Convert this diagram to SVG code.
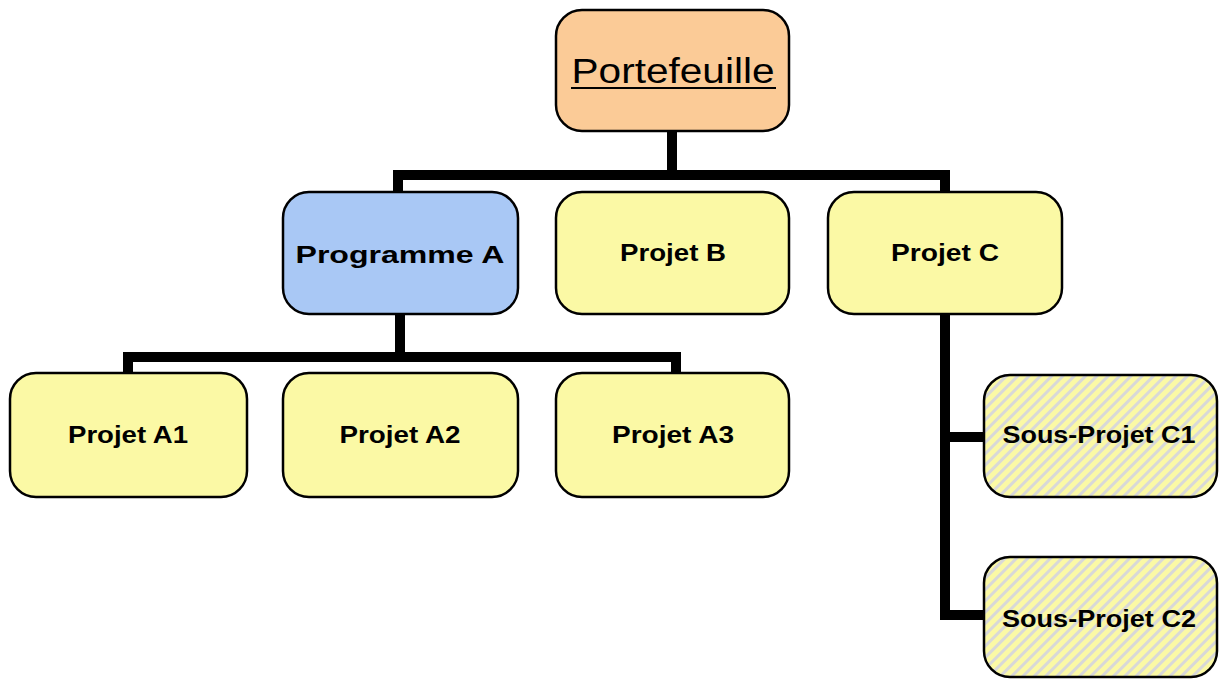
<svg xmlns="http://www.w3.org/2000/svg" width="1219" height="679" viewBox="0 0 1219 679">
<style>
.box{stroke:#000;stroke-width:2.5}
.y{fill:#FBF9A5}
.lbl{font-family:"Liberation Sans",Arial,sans-serif;font-weight:bold;font-size:23px;fill:#000;text-anchor:middle}
.conn{fill:none;stroke:#000;stroke-width:10;stroke-linejoin:miter}
</style>
<defs>
<pattern id="stripes" patternUnits="userSpaceOnUse" width="8" height="8" patternTransform="rotate(45)">
<rect width="8" height="8" fill="#FBF9A5"/>
<rect width="3" height="8" fill="#D8D8D8"/>
</pattern>
</defs>
<rect width="1219" height="679" fill="#fff"/>
<g id="connectors">
<path class="conn" d="M672 131 V175 M398 192 V175 H945 V192"/>
<path class="conn" d="M400 314 V357 M128 373 V357 H676 V373"/>
<path class="conn" d="M945 314 V615 H985 M945 437 H985"/>
</g>
<g id="portefeuille">
<rect class="box" x="556" y="10" width="233" height="121" rx="26" fill="#FBCB97"/>
<text x="673" y="83" font-family="Liberation Sans,Arial,sans-serif" font-size="35" text-anchor="middle" textLength="203" lengthAdjust="spacingAndGlyphs">Portefeuille</text>
<rect x="571" y="87" width="205" height="2" fill="#000"/>
</g>
<g id="programmeA">
<rect class="box" x="283" y="192" width="235" height="122" rx="26" fill="#A9C8F5"/>
<text class="lbl" x="400" y="263" font-size="25" textLength="209" lengthAdjust="spacingAndGlyphs">Programme A</text>
</g>
<g id="projetB">
<rect class="box y" x="556" y="192" width="233" height="122" rx="26"/>
<text class="lbl" x="673" y="261" textLength="106" lengthAdjust="spacingAndGlyphs">Projet B</text>
</g>
<g id="projetC">
<rect class="box y" x="828" y="192" width="234" height="122" rx="26"/>
<text class="lbl" x="945" y="261" textLength="108" lengthAdjust="spacingAndGlyphs">Projet C</text>
</g>
<g id="projetA1">
<rect class="box y" x="10" y="373" width="237" height="124" rx="26"/>
<text class="lbl" x="128" y="443" textLength="120" lengthAdjust="spacingAndGlyphs">Projet A1</text>
</g>
<g id="projetA2">
<rect class="box y" x="283" y="373" width="235" height="124" rx="26"/>
<text class="lbl" x="400" y="443" textLength="121" lengthAdjust="spacingAndGlyphs">Projet A2</text>
</g>
<g id="projetA3">
<rect class="box y" x="556" y="373" width="233" height="124" rx="26"/>
<text class="lbl" x="673" y="443" textLength="122" lengthAdjust="spacingAndGlyphs">Projet A3</text>
</g>
<g id="sousProjetC1">
<rect class="box" x="984" y="375" width="233" height="122" rx="26" fill="url(#stripes)"/>
<text class="lbl" x="1099" y="443" textLength="193" lengthAdjust="spacingAndGlyphs">Sous-Projet C1</text>
</g>
<g id="sousProjetC2">
<rect class="box" x="984" y="557" width="233" height="120" rx="26" fill="url(#stripes)"/>
<text class="lbl" x="1099" y="627" textLength="194" lengthAdjust="spacingAndGlyphs">Sous-Projet C2</text>
</g>
</svg>
